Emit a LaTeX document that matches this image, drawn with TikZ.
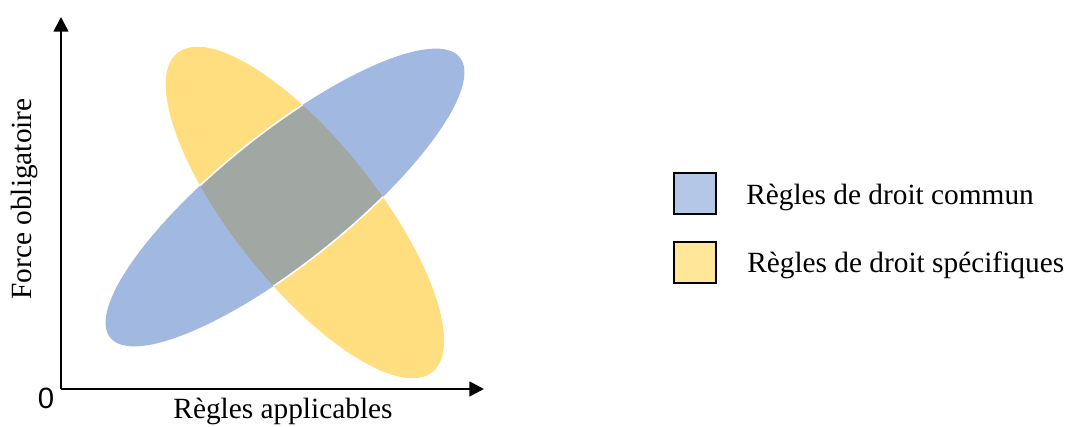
\documentclass[tikz,border=0pt]{standalone}
\usepackage{fontspec}
\setmainfont{Liberation Serif}
\newfontfamily\zerofont{Liberation Sans}
\usetikzlibrary{arrows.meta}
\definecolor{ellblue}{HTML}{4472C4}
\definecolor{ellyellow}{HTML}{FFDE80}
\definecolor{legblue}{HTML}{B4C7E7}
\definecolor{legyellow}{HTML}{FFE699}
\tikzset{
  axis/.style={line width=2pt,-{Triangle[length=11pt,width=11pt]}},
  legbox/.style={draw=black,line width=1.1pt,minimum width=31.5pt,minimum height=31pt,inner sep=0pt},
  lbl/.style={font=\fontsize{22}{26}\selectfont,inner sep=0pt},
  yell/.style={x radius=153.15pt,y radius=53.85pt,rotate=-51.4},
  bell/.style={x radius=168pt,y radius=48.5pt,rotate=38.7},
}
\begin{document}
\begin{tikzpicture}[x=0.75pt,y=0.75pt]
\useasboundingbox (0,0) rectangle (1065,426);
% ellipses
\fill[ellyellow] (304.9,213.5) ellipse [yell];
\fill[ellblue,fill opacity=0.5] (285,228.5) ellipse [bell];
\begin{scope}
  \clip (304.9,213.5) ellipse [yell];
  \draw[white,line width=1.2pt] (285,228.5) ellipse [bell];
\end{scope}
% axes
\coordinate (o) at (61,37);
\coordinate (ytip) at (61,409);
\coordinate (xtip) at (484,37);
\draw[axis] (o) -- (ytip);
\draw[axis] (o) -- (xtip);
\node[lbl,font=\zerofont\fontsize{22}{26}\selectfont] (zero) at (46,28) {0};
\node[lbl,anchor=base] (xlab) at (283,8) {Règles applicables};
\node[lbl,anchor=base,rotate=90] (ylab) at (31.5,227) {Force obligatoire};
% legend
\node[legbox,fill=legblue] (lb1) at (695,232.5) {};
\node[legbox,fill=legyellow] (lb2) at (695,163.5) {};
\node[lbl,anchor=base west] (lt1) at (746,222) {Règles de droit commun};
\node[lbl,anchor=base west] (lt2) at (747,154) {Règles de droit spécifiques};
\end{tikzpicture}
\end{document}
